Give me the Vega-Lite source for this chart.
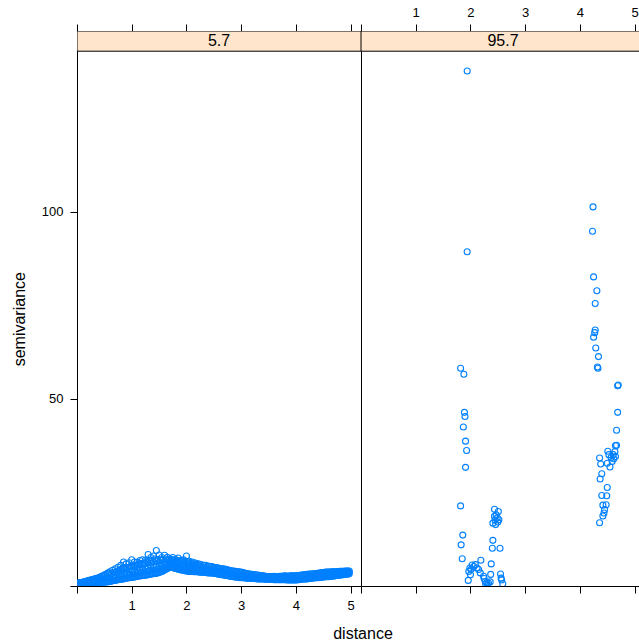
{
  "$schema": "https://vega.github.io/schema/vega-lite/v6.json",
  "padding": {"left": 11, "top": 6, "right": 0, "bottom": 0},
  "background": "white",
  "bounds": "flush",
  "spacing": 0,
  "config": {
    "font": "Liberation Sans",
    "view": {"stroke": null},
    "axis": {
      "domainColor": "black", "tickColor": "black", "labelColor": "black", "titleColor": "black",
      "grid": false, "labelFont": "Liberation Sans", "labelFontSize": 13,
      "titleFont": "Liberation Sans", "titleFontSize": 16, "titleFontWeight": "normal",
      "tickSize": 7, "domainWidth": 1, "tickWidth": 1, "labelFlush": false, "labelOverlap": false
    }
  },
  "datasets": {
    "a": [
      {"d":0.05,"s":0.3},{"d":0.05,"s":0.6},{"d":0.05,"s":0.9},
      {"d":0.10,"s":0.35},{"d":0.10,"s":0.7},{"d":0.10,"s":1.0},
      {"d":0.15,"s":0.4},{"d":0.15,"s":0.8},{"d":0.15,"s":1.2},
      {"d":0.20,"s":0.5},{"d":0.20,"s":0.9},{"d":0.20,"s":1.4},
      {"d":0.25,"s":0.6},{"d":0.25,"s":1.1},{"d":0.25,"s":1.6},
      {"d":0.30,"s":0.6},{"d":0.30,"s":1.2},{"d":0.30,"s":1.8},
      {"d":0.35,"s":0.8},{"d":0.35,"s":1.4},{"d":0.35,"s":2.0},
      {"d":0.40,"s":0.9},{"d":0.40,"s":1.5},{"d":0.40,"s":2.2},
      {"d":0.45,"s":1.0},{"d":0.45,"s":1.7},{"d":0.45,"s":2.6},
      {"d":0.50,"s":1.0},{"d":0.50,"s":1.9},{"d":0.50,"s":2.9},
      {"d":0.55,"s":1.1},{"d":0.55,"s":2.1},{"d":0.55,"s":3.3},
      {"d":0.60,"s":1.2},{"d":0.60,"s":2.3},{"d":0.60,"s":3.8},
      {"d":0.65,"s":1.4},{"d":0.65,"s":2.6},{"d":0.65,"s":4.2},
      {"d":0.70,"s":1.5},{"d":0.70,"s":2.9},{"d":0.70,"s":4.6},{"d":0.70,"s":3.6},
      {"d":0.75,"s":1.7},{"d":0.75,"s":3.0},{"d":0.75,"s":5.0},{"d":0.75,"s":4.0},
      {"d":0.80,"s":1.8},{"d":0.80,"s":3.3},{"d":0.80,"s":5.5},{"d":0.80,"s":4.4},
      {"d":0.85,"s":1.9},{"d":0.85,"s":3.5},{"d":0.85,"s":6.4},{"d":0.85,"s":4.8},
      {"d":0.90,"s":2.1},{"d":0.90,"s":3.6},{"d":0.90,"s":5.9},{"d":0.90,"s":4.5},
      {"d":0.95,"s":2.2},{"d":0.95,"s":3.8},{"d":0.95,"s":6.2},{"d":0.95,"s":5.0},
      {"d":1.00,"s":2.3},{"d":1.00,"s":4.0},{"d":1.00,"s":7.0},{"d":1.00,"s":5.3},
      {"d":1.05,"s":2.4},{"d":1.05,"s":4.1},{"d":1.05,"s":6.4},{"d":1.05,"s":5.1},
      {"d":1.10,"s":2.6},{"d":1.10,"s":4.3},{"d":1.10,"s":6.3},{"d":1.10,"s":5.5},
      {"d":1.15,"s":2.7},{"d":1.15,"s":4.4},{"d":1.15,"s":6.8},{"d":1.15,"s":5.8},
      {"d":1.20,"s":2.8},{"d":1.20,"s":4.6},{"d":1.20,"s":7.0},{"d":1.20,"s":5.6},
      {"d":1.25,"s":2.9},{"d":1.25,"s":4.7},{"d":1.25,"s":6.9},{"d":1.25,"s":6.0},
      {"d":1.30,"s":3.0},{"d":1.30,"s":4.8},{"d":1.30,"s":8.4},{"d":1.30,"s":6.2},
      {"d":1.35,"s":3.2},{"d":1.35,"s":5.0},{"d":1.35,"s":7.6},{"d":1.35,"s":6.1},
      {"d":1.40,"s":3.3},{"d":1.40,"s":5.1},{"d":1.40,"s":8.0},{"d":1.40,"s":6.4},
      {"d":1.45,"s":3.4},{"d":1.45,"s":5.2},{"d":1.45,"s":9.5},{"d":1.45,"s":6.6},
      {"d":1.50,"s":3.6},{"d":1.50,"s":5.3},{"d":1.50,"s":8.3},{"d":1.50,"s":6.3},
      {"d":1.55,"s":3.9},{"d":1.55,"s":5.5},{"d":1.55,"s":7.6},{"d":1.55,"s":6.8},
      {"d":1.60,"s":4.3},{"d":1.60,"s":5.6},{"d":1.60,"s":8.2},{"d":1.60,"s":6.5},
      {"d":1.65,"s":4.7},{"d":1.65,"s":5.8},{"d":1.65,"s":7.7},{"d":1.65,"s":6.9},
      {"d":1.70,"s":5.0},{"d":1.70,"s":5.9},{"d":1.70,"s":7.3},{"d":1.70,"s":6.6},
      {"d":1.75,"s":4.9},{"d":1.75,"s":5.7},{"d":1.75,"s":7.6},{"d":1.75,"s":6.8},
      {"d":1.80,"s":4.7},{"d":1.80,"s":5.6},{"d":1.80,"s":7.1},{"d":1.80,"s":6.4},
      {"d":1.85,"s":4.5},{"d":1.85,"s":5.5},{"d":1.85,"s":7.5},{"d":1.85,"s":6.3},
      {"d":1.90,"s":4.3},{"d":1.90,"s":5.4},{"d":1.90,"s":6.9},{"d":1.90,"s":6.1},
      {"d":1.95,"s":4.2},{"d":1.95,"s":5.3},{"d":1.95,"s":7.0},{"d":1.95,"s":6.2},
      {"d":2.00,"s":4.0},{"d":2.00,"s":5.2},{"d":2.00,"s":8.0},{"d":2.00,"s":6.0},
      {"d":2.05,"s":3.9},{"d":2.05,"s":5.0},{"d":2.05,"s":6.6},{"d":2.05,"s":5.8},
      {"d":2.10,"s":3.9},{"d":2.10,"s":4.9},{"d":2.10,"s":6.4},{"d":2.10,"s":5.6},
      {"d":2.15,"s":3.8},{"d":2.15,"s":4.8},{"d":2.15,"s":6.2},{"d":2.15,"s":5.5},
      {"d":2.20,"s":3.8},{"d":2.20,"s":4.7},{"d":2.20,"s":6.0},{"d":2.20,"s":5.3},
      {"d":2.25,"s":3.7},{"d":2.25,"s":4.6},{"d":2.25,"s":5.8},
      {"d":2.30,"s":3.7},{"d":2.30,"s":4.5},{"d":2.30,"s":5.6},
      {"d":2.35,"s":3.6},{"d":2.35,"s":4.4},{"d":2.35,"s":5.5},
      {"d":2.40,"s":3.5},{"d":2.40,"s":4.3},{"d":2.40,"s":5.3},
      {"d":2.45,"s":3.5},{"d":2.45,"s":4.2},{"d":2.45,"s":5.2},
      {"d":2.50,"s":3.4},{"d":2.50,"s":4.1},{"d":2.50,"s":5.0},
      {"d":2.55,"s":3.3},{"d":2.55,"s":4.0},{"d":2.55,"s":4.9},
      {"d":2.60,"s":3.1},{"d":2.60,"s":3.9},{"d":2.60,"s":4.7},
      {"d":2.65,"s":3.0},{"d":2.65,"s":3.8},{"d":2.65,"s":4.6},
      {"d":2.70,"s":2.9},{"d":2.70,"s":3.6},{"d":2.70,"s":4.5},
      {"d":2.75,"s":2.8},{"d":2.75,"s":3.5},{"d":2.75,"s":4.3},
      {"d":2.80,"s":2.6},{"d":2.80,"s":3.3},{"d":2.80,"s":4.1},
      {"d":2.85,"s":2.5},{"d":2.85,"s":3.2},{"d":2.85,"s":4.0},
      {"d":2.90,"s":2.4},{"d":2.90,"s":3.0},{"d":2.90,"s":3.9},
      {"d":2.95,"s":2.3},{"d":2.95,"s":2.9},{"d":2.95,"s":3.8},
      {"d":3.00,"s":2.2},{"d":3.00,"s":2.8},{"d":3.00,"s":3.7},
      {"d":3.05,"s":2.2},{"d":3.05,"s":2.7},{"d":3.05,"s":3.5},
      {"d":3.10,"s":2.1},{"d":3.10,"s":2.6},{"d":3.10,"s":3.3},
      {"d":3.15,"s":2.1},{"d":3.15,"s":2.5},{"d":3.15,"s":3.2},
      {"d":3.20,"s":2.0},{"d":3.20,"s":2.4},{"d":3.20,"s":3.1},
      {"d":3.25,"s":2.0},{"d":3.25,"s":2.4},{"d":3.25,"s":3.0},
      {"d":3.30,"s":1.9},{"d":3.30,"s":2.3},{"d":3.30,"s":2.9},
      {"d":3.35,"s":1.9},{"d":3.35,"s":2.2},{"d":3.35,"s":2.8},
      {"d":3.40,"s":1.9},{"d":3.40,"s":2.2},{"d":3.40,"s":2.7},
      {"d":3.45,"s":1.8},{"d":3.45,"s":2.1},{"d":3.45,"s":2.6},
      {"d":3.50,"s":1.8},{"d":3.50,"s":2.1},{"d":3.50,"s":2.5},
      {"d":3.55,"s":1.8},{"d":3.55,"s":2.1},{"d":3.55,"s":2.5},
      {"d":3.60,"s":1.7},{"d":3.60,"s":2.1},{"d":3.60,"s":2.6},
      {"d":3.65,"s":1.7},{"d":3.65,"s":2.0},{"d":3.65,"s":2.5},
      {"d":3.70,"s":1.7},{"d":3.70,"s":2.0},{"d":3.70,"s":2.6},
      {"d":3.75,"s":1.7},{"d":3.75,"s":2.1},{"d":3.75,"s":2.6},
      {"d":3.80,"s":1.7},{"d":3.80,"s":2.1},{"d":3.80,"s":2.7},
      {"d":3.85,"s":1.6},{"d":3.85,"s":2.0},{"d":3.85,"s":2.6},
      {"d":3.90,"s":1.6},{"d":3.90,"s":2.0},{"d":3.90,"s":2.7},
      {"d":3.95,"s":1.6},{"d":3.95,"s":2.1},{"d":3.95,"s":2.7},
      {"d":4.00,"s":1.6},{"d":4.00,"s":2.1},{"d":4.00,"s":2.7},
      {"d":4.05,"s":1.7},{"d":4.05,"s":2.2},{"d":4.05,"s":2.8},
      {"d":4.10,"s":1.8},{"d":4.10,"s":2.3},{"d":4.10,"s":2.9},
      {"d":4.15,"s":1.9},{"d":4.15,"s":2.4},{"d":4.15,"s":3.0},
      {"d":4.20,"s":1.9},{"d":4.20,"s":2.4},{"d":4.20,"s":3.1},
      {"d":4.25,"s":2.0},{"d":4.25,"s":2.5},{"d":4.25,"s":3.2},
      {"d":4.30,"s":2.1},{"d":4.30,"s":2.6},{"d":4.30,"s":3.2},
      {"d":4.35,"s":2.2},{"d":4.35,"s":2.7},{"d":4.35,"s":3.3},
      {"d":4.40,"s":2.2},{"d":4.40,"s":2.8},{"d":4.40,"s":3.4},
      {"d":4.45,"s":2.3},{"d":4.45,"s":2.9},{"d":4.45,"s":3.5},
      {"d":4.50,"s":2.4},{"d":4.50,"s":2.9},{"d":4.50,"s":3.6},
      {"d":4.55,"s":2.5},{"d":4.55,"s":3.0},{"d":4.55,"s":3.7},
      {"d":4.60,"s":2.5},{"d":4.60,"s":3.1},{"d":4.60,"s":3.7},
      {"d":4.65,"s":2.6},{"d":4.65,"s":3.2},{"d":4.65,"s":3.8},
      {"d":4.70,"s":2.7},{"d":4.70,"s":3.2},{"d":4.70,"s":3.8},
      {"d":4.75,"s":2.8},{"d":4.75,"s":3.3},{"d":4.75,"s":3.8},
      {"d":4.80,"s":2.9},{"d":4.80,"s":3.4},{"d":4.80,"s":3.9},
      {"d":4.85,"s":3.0},{"d":4.85,"s":3.5},{"d":4.85,"s":3.9},
      {"d":4.90,"s":3.1},{"d":4.90,"s":3.6},{"d":4.90,"s":4.0},
      {"d":4.95,"s":3.2},{"d":4.95,"s":3.6},{"d":4.95,"s":4.0},
      {"d":0.625,"s":1.8},{"d":0.625,"s":3.2},{"d":0.675,"s":2.1},{"d":0.675,"s":3.6},
      {"d":0.725,"s":2.3},{"d":0.725,"s":3.9},{"d":0.775,"s":2.5},{"d":0.775,"s":4.2},
      {"d":0.825,"s":2.6},{"d":0.825,"s":4.6},{"d":0.875,"s":2.8},{"d":0.875,"s":4.7},
      {"d":0.925,"s":3.0},{"d":0.925,"s":4.9},{"d":0.975,"s":3.1},{"d":0.975,"s":5.2},
      {"d":1.025,"s":3.2},{"d":1.025,"s":5.4},{"d":1.075,"s":3.4},{"d":1.075,"s":5.5},
      {"d":1.125,"s":3.5},{"d":1.125,"s":5.9},{"d":1.175,"s":3.7},{"d":1.175,"s":6.0},
      {"d":1.225,"s":3.8},{"d":1.225,"s":6.2},{"d":1.275,"s":3.9},{"d":1.275,"s":6.6},
      {"d":1.325,"s":4.1},{"d":1.325,"s":6.7},{"d":1.375,"s":4.2},{"d":1.375,"s":6.9},
      {"d":1.425,"s":4.3},{"d":1.425,"s":7.2},{"d":1.475,"s":4.4},{"d":1.475,"s":7.1},
      {"d":1.525,"s":4.6},{"d":1.525,"s":7.0},{"d":1.575,"s":4.8},{"d":1.575,"s":7.1},
      {"d":1.625,"s":5.0},{"d":1.625,"s":7.2},{"d":1.675,"s":5.4},{"d":1.675,"s":7.0},
      {"d":1.725,"s":5.4},{"d":1.725,"s":7.1},{"d":1.775,"s":5.2},{"d":1.775,"s":6.9},
      {"d":1.825,"s":5.1},{"d":1.825,"s":6.8},{"d":1.875,"s":5.0},{"d":1.875,"s":6.7},
      {"d":1.925,"s":4.8},{"d":1.925,"s":6.6},{"d":1.975,"s":4.7},{"d":1.975,"s":6.6},
      {"d":2.025,"s":4.5},{"d":2.025,"s":6.4},{"d":2.075,"s":4.4},{"d":2.075,"s":6.0},
      {"d":2.125,"s":4.3},{"d":2.125,"s":5.9},{"d":2.175,"s":4.2},{"d":2.175,"s":5.7},
      {"d":2.225,"s":4.1},{"d":2.225,"s":5.4},{"d":2.275,"s":4.0},{"d":2.275,"s":5.2},
      {"d":2.325,"s":3.9},{"d":2.325,"s":5.0},{"d":2.375,"s":3.8},{"d":2.375,"s":4.9},
      {"d":0.025,"s":0.3},{"d":0.025,"s":0.5},{"d":0.025,"s":0.8},
      {"d":0.075,"s":0.3},{"d":0.075,"s":0.6},{"d":0.075,"s":0.9},
      {"d":0.125,"s":0.4},{"d":0.125,"s":0.7},{"d":0.125,"s":1.1},
      {"d":0.175,"s":0.45},{"d":0.175,"s":0.85},{"d":0.175,"s":1.3},
      {"d":0.225,"s":0.55},{"d":0.225,"s":1.0},{"d":0.225,"s":1.5},
      {"d":0.275,"s":0.6},{"d":0.275,"s":1.1},{"d":0.275,"s":1.7},
      {"d":0.325,"s":0.7},{"d":0.325,"s":1.3},{"d":0.325,"s":1.9},
      {"d":0.375,"s":0.85},{"d":0.375,"s":1.45},{"d":0.375,"s":2.1},
      {"d":0.425,"s":0.95},{"d":0.425,"s":1.6},{"d":0.425,"s":2.4},
      {"d":0.475,"s":1.0},{"d":0.475,"s":1.8},{"d":0.475,"s":2.7},
      {"d":0.525,"s":1.05},{"d":0.525,"s":2.0},{"d":0.525,"s":3.1},
      {"d":0.575,"s":1.15},{"d":0.575,"s":2.2},{"d":0.575,"s":3.5},
      {"d":0.625,"s":1.3},{"d":0.675,"s":1.45},{"d":0.725,"s":1.6},{"d":0.775,"s":1.75},
      {"d":0.825,"s":1.85},{"d":0.875,"s":2.0},{"d":0.925,"s":2.15},{"d":0.975,"s":2.25},
      {"d":1.025,"s":2.35},{"d":1.075,"s":2.5},{"d":1.125,"s":2.65},{"d":1.175,"s":2.75},
      {"d":1.225,"s":2.85},{"d":1.275,"s":2.95},{"d":1.325,"s":3.1},{"d":1.375,"s":3.25},
      {"d":1.425,"s":3.35},{"d":1.475,"s":3.5},{"d":1.525,"s":3.75},{"d":1.575,"s":4.1},
      {"d":1.625,"s":4.5},{"d":1.675,"s":4.85},{"d":1.725,"s":4.95},{"d":1.775,"s":4.8},
      {"d":1.825,"s":4.6},{"d":1.875,"s":4.4},{"d":1.925,"s":4.25},{"d":1.975,"s":4.1},
      {"d":2.025,"s":3.95},{"d":2.075,"s":3.9},{"d":2.125,"s":3.85},{"d":2.175,"s":3.8},
      {"d":2.225,"s":3.75},{"d":2.275,"s":3.7},{"d":2.325,"s":3.65},{"d":2.375,"s":3.55},
      {"d":2.425,"s":3.5},{"d":2.425,"s":4.25},{"d":2.425,"s":5.2},
      {"d":2.475,"s":3.45},{"d":2.475,"s":4.15},{"d":2.475,"s":5.1},
      {"d":2.525,"s":3.35},{"d":2.525,"s":4.05},{"d":2.525,"s":4.95},
      {"d":2.575,"s":3.2},{"d":2.575,"s":3.95},{"d":2.575,"s":4.8},
      {"d":2.625,"s":3.05},{"d":2.625,"s":3.85},{"d":2.625,"s":4.65},
      {"d":2.675,"s":2.95},{"d":2.675,"s":3.7},{"d":2.675,"s":4.55},
      {"d":2.725,"s":2.85},{"d":2.725,"s":3.55},{"d":2.725,"s":4.4},
      {"d":2.775,"s":2.7},{"d":2.775,"s":3.4},{"d":2.775,"s":4.2},
      {"d":2.825,"s":2.55},{"d":2.825,"s":3.25},{"d":2.825,"s":4.05},
      {"d":2.875,"s":2.45},{"d":2.875,"s":3.1},{"d":2.875,"s":3.95},
      {"d":2.925,"s":2.35},{"d":2.925,"s":2.95},{"d":2.925,"s":3.85},
      {"d":2.975,"s":2.25},{"d":2.975,"s":2.85},{"d":2.975,"s":3.75},
      {"d":3.025,"s":2.2},{"d":3.025,"s":2.75},{"d":3.025,"s":3.6},
      {"d":3.075,"s":2.15},{"d":3.075,"s":2.65},{"d":3.075,"s":3.4},
      {"d":3.125,"s":2.1},{"d":3.125,"s":2.55},{"d":3.125,"s":3.25},
      {"d":3.175,"s":2.05},{"d":3.175,"s":2.45},{"d":3.175,"s":3.15},
      {"d":3.225,"s":2.0},{"d":3.225,"s":2.4},{"d":3.225,"s":3.05},
      {"d":3.275,"s":1.95},{"d":3.275,"s":2.35},{"d":3.275,"s":2.95},
      {"d":3.325,"s":1.9},{"d":3.325,"s":2.25},{"d":3.325,"s":2.85},
      {"d":3.375,"s":1.9},{"d":3.375,"s":2.2},{"d":3.375,"s":2.75},
      {"d":3.425,"s":1.85},{"d":3.425,"s":2.15},{"d":3.425,"s":2.65},
      {"d":3.475,"s":1.8},{"d":3.475,"s":2.1},{"d":3.475,"s":2.55},
      {"d":3.525,"s":1.8},{"d":3.525,"s":2.1},{"d":3.525,"s":2.5},
      {"d":3.575,"s":1.75},{"d":3.575,"s":2.1},{"d":3.575,"s":2.55},
      {"d":3.625,"s":1.7},{"d":3.625,"s":2.05},{"d":3.625,"s":2.55},
      {"d":3.675,"s":1.7},{"d":3.675,"s":2.0},{"d":3.675,"s":2.55},
      {"d":3.725,"s":1.7},{"d":3.725,"s":2.05},{"d":3.725,"s":2.6},
      {"d":3.775,"s":1.7},{"d":3.775,"s":2.1},{"d":3.775,"s":2.65},
      {"d":3.825,"s":1.65},{"d":3.825,"s":2.05},{"d":3.825,"s":2.65},
      {"d":3.875,"s":1.6},{"d":3.875,"s":2.0},{"d":3.875,"s":2.65},
      {"d":3.925,"s":1.6},{"d":3.925,"s":2.05},{"d":3.925,"s":2.7},
      {"d":3.975,"s":1.6},{"d":3.975,"s":2.1},{"d":3.975,"s":2.7},
      {"d":4.025,"s":1.65},{"d":4.025,"s":2.15},{"d":4.025,"s":2.75},
      {"d":4.075,"s":1.75},{"d":4.075,"s":2.25},{"d":4.075,"s":2.85},
      {"d":4.125,"s":1.85},{"d":4.125,"s":2.35},{"d":4.125,"s":2.95},
      {"d":4.175,"s":1.9},{"d":4.175,"s":2.4},{"d":4.175,"s":3.05},
      {"d":4.225,"s":1.95},{"d":4.225,"s":2.45},{"d":4.225,"s":3.15},
      {"d":4.275,"s":2.05},{"d":4.275,"s":2.55},{"d":4.275,"s":3.2},
      {"d":4.325,"s":2.15},{"d":4.325,"s":2.65},{"d":4.325,"s":3.25},
      {"d":4.375,"s":2.2},{"d":4.375,"s":2.75},{"d":4.375,"s":3.35},
      {"d":4.425,"s":2.25},{"d":4.425,"s":2.85},{"d":4.425,"s":3.45},
      {"d":4.475,"s":2.35},{"d":4.475,"s":2.9},{"d":4.475,"s":3.55},
      {"d":4.525,"s":2.45},{"d":4.525,"s":2.95},{"d":4.525,"s":3.65},
      {"d":4.575,"s":2.5},{"d":4.575,"s":3.05},{"d":4.575,"s":3.7},
      {"d":4.625,"s":2.55},{"d":4.625,"s":3.15},{"d":4.625,"s":3.75},
      {"d":4.675,"s":2.65},{"d":4.675,"s":3.2},{"d":4.675,"s":3.8},
      {"d":4.725,"s":2.75},{"d":4.725,"s":3.25},{"d":4.725,"s":3.8},
      {"d":4.775,"s":2.85},{"d":4.775,"s":3.35},{"d":4.775,"s":3.85},
      {"d":4.825,"s":2.95},{"d":4.825,"s":3.45},{"d":4.825,"s":3.9},
      {"d":4.875,"s":3.05},{"d":4.875,"s":3.55},{"d":4.875,"s":3.95},
      {"d":4.925,"s":3.15},{"d":4.925,"s":3.6},{"d":4.925,"s":4.0},
      {"d":4.975,"s":3.25},{"d":4.975,"s":3.65},{"d":4.975,"s":4.0}
    ],
    "b": [
      {"d":1.94,"s":137.6},{"d":4.24,"s":101.3},{"d":4.23,"s":94.8},{"d":1.94,"s":89.3},
      {"d":4.25,"s":82.6},{"d":4.31,"s":78.9},{"d":4.28,"s":75.5},{"d":4.28,"s":68.4},
      {"d":4.27,"s":67.7},{"d":4.25,"s":66.5},{"d":4.29,"s":63.6},{"d":4.34,"s":61.3},
      {"d":4.32,"s":58.5},{"d":4.33,"s":58.2},{"d":4.70,"s":53.7},{"d":4.69,"s":53.5},
      {"d":4.69,"s":46.4},{"d":4.67,"s":41.6},{"d":4.67,"s":37.6},{"d":4.65,"s":37.5},
      {"d":4.51,"s":36.0},{"d":4.64,"s":35.9},{"d":4.61,"s":35.1},{"d":4.53,"s":35.1},
      {"d":4.57,"s":34.3},{"d":4.62,"s":34.0},{"d":4.50,"s":32.8},{"d":4.55,"s":31.8},
      {"d":4.59,"s":33.3},{"d":4.65,"s":34.6},{"d":4.36,"s":34.2},{"d":4.38,"s":32.6},
      {"d":4.40,"s":30.0},{"d":4.37,"s":28.6},{"d":4.50,"s":26.3},{"d":4.40,"s":24.2},
      {"d":4.49,"s":24.1},{"d":4.42,"s":21.6},{"d":4.48,"s":21.7},{"d":4.45,"s":20.4},
      {"d":4.44,"s":19.5},{"d":4.42,"s":18.7},{"d":4.36,"s":16.9},
      {"d":1.82,"s":58.2},{"d":1.88,"s":56.6},{"d":1.89,"s":46.4},{"d":1.90,"s":45.3},
      {"d":1.87,"s":42.5},{"d":1.91,"s":38.7},{"d":1.93,"s":36.2},{"d":1.91,"s":31.7},
      {"d":1.82,"s":21.4},{"d":1.86,"s":13.6},{"d":1.83,"s":11.0},{"d":1.85,"s":7.3},
      {"d":1.96,"s":1.5},{"d":2.00,"s":3.0},{"d":2.01,"s":4.4},{"d":2.06,"s":5.2},
      {"d":2.09,"s":5.7},{"d":2.12,"s":4.8},{"d":2.15,"s":4.4},{"d":2.19,"s":6.9},
      {"d":1.97,"s":3.9},{"d":1.99,"s":4.8},{"d":2.03,"s":5.6},{"d":2.18,"s":3.5},
      {"d":2.24,"s":2.6},{"d":2.27,"s":1.2},{"d":2.30,"s":0.9},{"d":2.33,"s":0.8},
      {"d":2.36,"s":1.1},{"d":2.25,"s":2.0},{"d":2.31,"s":0.3},{"d":2.28,"s":0.5},
      {"d":2.38,"s":5.9},{"d":2.37,"s":3.1},{"d":2.41,"s":12.2},{"d":2.40,"s":10.1},
      {"d":2.54,"s":10.1},{"d":2.44,"s":20.5},{"d":2.51,"s":19.9},{"d":2.44,"s":18.6},
      {"d":2.49,"s":18.2},{"d":2.52,"s":17.7},{"d":2.41,"s":16.8},{"d":2.46,"s":16.4},
      {"d":2.50,"s":17.1},{"d":2.45,"s":17.6},{"d":2.47,"s":19.0},{"d":2.55,"s":3.2},
      {"d":2.57,"s":1.6},{"d":2.59,"s":0.6},{"d":2.56,"s":2.1}
    ]
  },
  "hconcat": [
    {
      "width": 284,
      "height": 555,
      "resolve": {"axis": {"x": "independent", "y": "independent"}},
      "layer": [
        {
          "data": {"name": "a"},
          "mark": {"type": "point", "shape": "circle", "filled": false, "color": "#0080ff", "size": 36, "strokeWidth": 1.1, "opacity": 1, "clip": true},
          "encoding": {
            "x": {"field": "d", "type": "quantitative", "scale": {"domain": [0, 5.19], "nice": false, "zero": false},
              "axis": {"orient": "bottom", "values": [0, 1, 2, 3, 4, 5], "labelExpr": "datum.value == 0 ? '' : datum.label",
                "title": "distance", "titleX": 285.5, "titleY": 52.7, "titleBaseline": "alphabetic", "titleAlign": "center", "labelPadding": 6}},
            "y": {"field": "s", "type": "quantitative", "scale": {"domain": [0, 148.3], "nice": false, "zero": false},
              "axis": {"orient": "left", "values": [0, 50, 100], "labelExpr": "datum.value == 0 ? '' : datum.label",
                "title": "semivariance", "titleX": -52.7, "titleY": 287.7, "titleBaseline": "alphabetic", "titleAlign": "center", "titleAngle": 270, "labelPadding": 7}}
          }
        },
        {
          "data": {"values": [{"panel": "5.7"}]},
          "mark": {"type": "rect", "fill": "#ffe5cc", "stroke": "black", "strokeWidth": 1, "clip": true},
          "encoding": {
            "x": {"datum": 0, "type": "quantitative", "scale": {"domain": [0, 5.19], "nice": false, "zero": false},
              "axis": {"orient": "top", "values": [0, 1, 2, 3, 4, 5], "labels": false, "title": null}},
            "x2": {"datum": 5.19},
            "y": {"datum": 142.9, "type": "quantitative", "scale": {"domain": [0, 148.3], "nice": false, "zero": false}, "axis": null},
            "y2": {"datum": 148.3}
          }
        },
        {
          "data": {"values": [{"panel": "5.7"}]},
          "mark": {"type": "text", "fontSize": 16, "font": "Liberation Sans", "color": "black", "baseline": "middle", "align": "center"},
          "encoding": {
            "x": {"datum": 2.595, "type": "quantitative", "scale": {"domain": [0, 5.19], "nice": false, "zero": false}, "axis": null},
            "y": {"datum": 145.6, "type": "quantitative", "scale": {"domain": [0, 148.3], "nice": false, "zero": false}, "axis": null},
            "text": {"field": "panel"}
          }
        }
      ]
    },
    {
      "width": 278,
      "height": 555,
      "resolve": {"axis": {"x": "independent", "y": "independent"}},
      "layer": [
        {
          "data": {"name": "b"},
          "mark": {"type": "point", "shape": "circle", "filled": false, "color": "#0080ff", "size": 36, "strokeWidth": 1.1, "opacity": 1, "clip": true},
          "encoding": {
            "x": {"field": "d", "type": "quantitative", "scale": {"domain": [0, 5.08], "nice": false, "zero": false},
              "axis": {"orient": "bottom", "values": [0, 1, 2, 3, 4, 5], "labels": false, "title": null}},
            "y": {"field": "s", "type": "quantitative", "scale": {"domain": [0, 148.3], "nice": false, "zero": false},
              "axis": {"orient": "left", "ticks": false, "labels": false, "title": null}}
          }
        },
        {
          "data": {"values": [{"panel": "95.7"}]},
          "mark": {"type": "rect", "fill": "#ffe5cc", "stroke": "black", "strokeWidth": 1, "clip": true},
          "encoding": {
            "x": {"datum": 0, "type": "quantitative", "scale": {"domain": [0, 5.08], "nice": false, "zero": false},
              "axis": {"orient": "top", "values": [0, 1, 2, 3, 4, 5], "labelExpr": "datum.value == 0 ? '' : datum.label", "labelPadding": 5, "title": null}},
            "x2": {"datum": 5.19},
            "y": {"datum": 142.9, "type": "quantitative", "scale": {"domain": [0, 148.3], "nice": false, "zero": false}, "axis": null},
            "y2": {"datum": 148.3}
          }
        },
        {
          "data": {"values": [{"panel": "95.7"}]},
          "mark": {"type": "text", "fontSize": 16, "font": "Liberation Sans", "color": "black", "baseline": "middle", "align": "center"},
          "encoding": {
            "x": {"datum": 2.595, "type": "quantitative", "scale": {"domain": [0, 5.08], "nice": false, "zero": false}, "axis": null},
            "y": {"datum": 145.6, "type": "quantitative", "scale": {"domain": [0, 148.3], "nice": false, "zero": false}, "axis": null},
            "text": {"field": "panel"}
          }
        }
      ]
    }
  ]
}
